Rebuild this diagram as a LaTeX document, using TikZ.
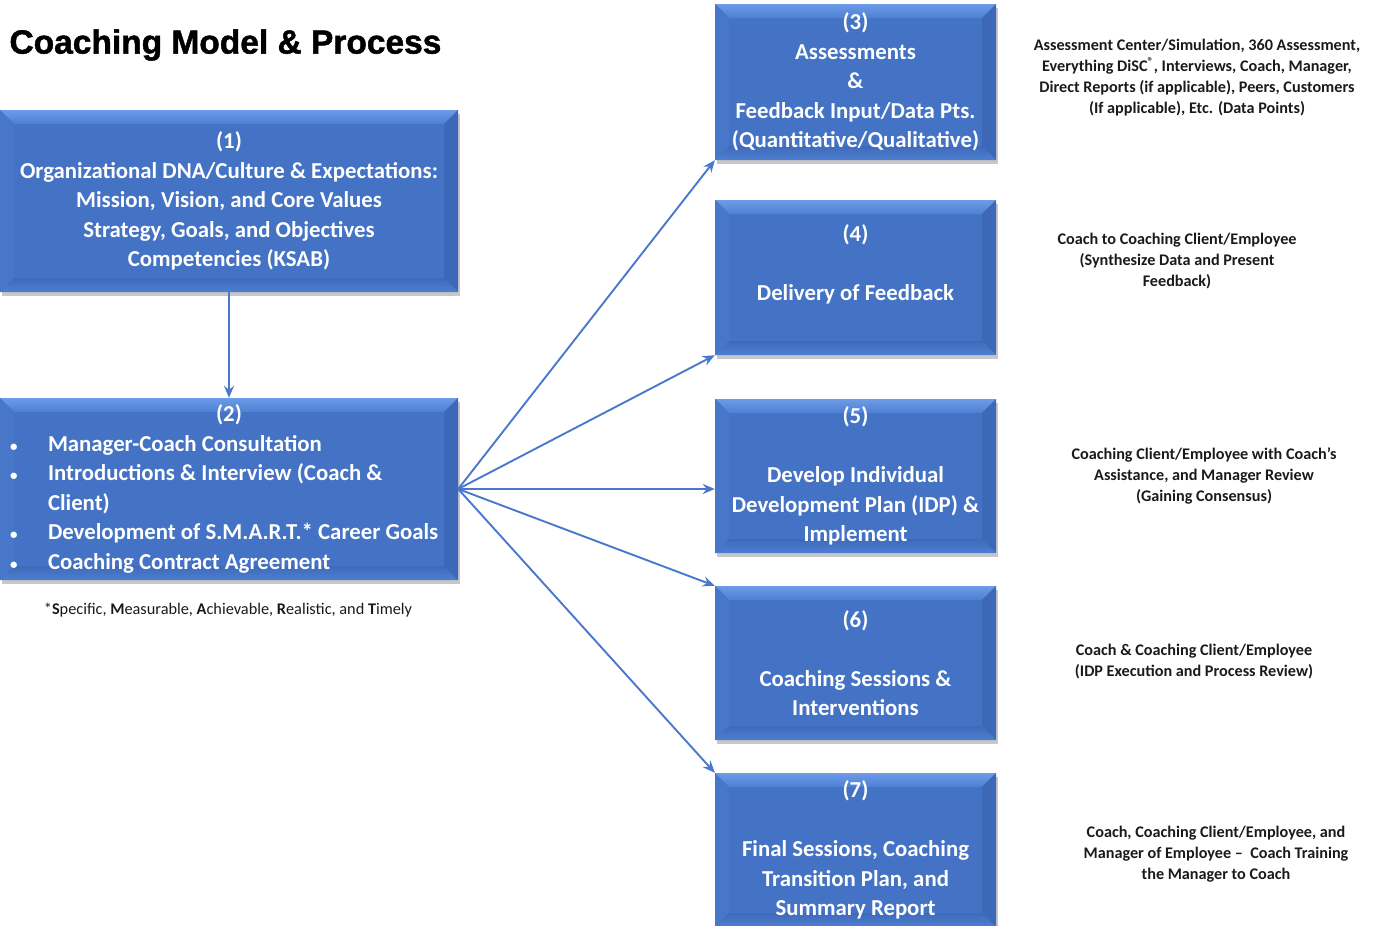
\documentclass[tikz,border=0pt]{standalone}
\usepackage{fontspec}
\setmainfont{Carlito}
\newfontfamily\titlefont[UprightFont=* Bold, FakeBold=1.4]{Liberation Sans}
\usetikzlibrary{positioning,arrows.meta,shadows}
\definecolor{boxblue}{HTML}{4472C4}
\definecolor{bevellight}{HTML}{6C9CE8}
\definecolor{bevelmid}{HTML}{4E7FD2}
\definecolor{bevelleft}{HTML}{4876C8}
\definecolor{bevelright}{HTML}{3D68B8}
\definecolor{bevelbottom}{HTML}{3F6AB9}
\definecolor{linkblue}{HTML}{4A78CC}
\definecolor{notegray}{HTML}{1A1A1A}
\newcommand{\bevw}{14pt}
% bullet line of box (2), text starts 48pt in
\newcommand{\bitem}[1]{\makebox[48pt][l]{\hspace{10pt}{\fontsize{15}{15}\selectfont\textbullet}}#1}

\begin{document}
\begin{tikzpicture}[
    x=1pt, y=-1pt,
    stage/.style={
      rectangle,
      fill=boxblue,
      text=white,
      inner sep=0pt,
      align=center,
      font=\bfseries\fontsize{22.8}{29.5}\selectfont,
      drop shadow={shadow xshift=1.5pt, shadow yshift=-3.5pt, fill=black, opacity=0.22},
      path picture={
        \coordinate (pnw) at (path picture bounding box.north west);
        \coordinate (pne) at (path picture bounding box.north east);
        \coordinate (psw) at (path picture bounding box.south west);
        \coordinate (pse) at (path picture bounding box.south east);
        \shade[top color=bevellight, bottom color=bevelmid] (pnw) -- (pne) -- ([shift={(-\bevw,-\bevw)}]pne) -- ([shift={(\bevw,-\bevw)}]pnw) -- cycle;
        \fill[bevelleft] (pnw) -- ([shift={(\bevw,-\bevw)}]pnw) -- ([shift={(\bevw,\bevw)}]psw) -- (psw) -- cycle;
        \fill[bevelright] (pne) -- ([shift={(-\bevw,-\bevw)}]pne) -- ([shift={(-\bevw,\bevw)}]pse) -- (pse) -- cycle;
        \shade[top color=bevelbottom, bottom color=bevelmid] (psw) -- ([shift={(\bevw,\bevw)}]psw) -- ([shift={(-\bevw,\bevw)}]pse) -- (pse) -- cycle;
      }
    },
    wide/.style={minimum width=458pt, minimum height=182pt},
    narrow/.style={minimum width=281pt, minimum height=154pt},
    note/.style={
      align=center,
      text=notegray,
      font=\bfseries\fontsize{16.2}{21}\selectfont
    },
    link/.style={
      draw=linkblue,
      line width=1.9pt,
      -{Stealth[length=12pt,width=10pt]}
    }
  ]
  \useasboundingbox (0,0) rectangle (1377,926);

  \node[anchor=west, font=\titlefont\fontsize{33.5}{38}\selectfont] (title) at (6,45) {Coaching Model \& Process};

  % left column
  \node[stage, wide] (culture) at (229,201) {(1)\\Organizational DNA/Culture \& Expectations:\\Mission, Vision, and Core Values\\Strategy, Goals, and Objectives\\Competencies (KSAB)};
  \node[stage, wide, align=flush left, text width=458pt] (contract) at (229,489) {%
    \hfill(2)\hfill\mbox{}\\
    \bitem{Manager-Coach Consultation}\\
    \bitem{Introductions \& Interview (Coach \&}\\
    \hspace*{48pt}Client)\\
    \bitem{Development of S.M.A.R.T.* Career Goals}\\
    \bitem{Coaching Contract Agreement}};
  \node[font=\fontsize{16.3}{18}\selectfont, text=notegray] (smart) at (228,610) {*\textbf{S}pecific, \textbf{M}easurable, \textbf{A}chievable, \textbf{R}ealistic, and \textbf{T}imely};

  % right column
  \node[stage, narrow, minimum height=156pt] (assess) at (855.5,82) {(3)\\Assessments\\\&\\Feedback Input/Data Pts.\\(Quantitative/Qualitative)};
  \node[stage, narrow, minimum height=155pt] (delivery) at (855.5,277.5) {(4)\\\mbox{}\\Delivery of Feedback\\\mbox{}};
  \node[stage, narrow] (idp) at (855.5,476) {(5)\\\mbox{}\\Develop Individual\\Development Plan (IDP) \&\\Implement};
  \node[stage, narrow] (sessions) at (855.5,663) {(6)\\\mbox{}\\Coaching Sessions \&\\Interventions};
  \node[stage, narrow] (final) at (855.5,850) {(7)\\\mbox{}\\Final Sessions, Coaching\\Transition Plan, and\\Summary Report};

  % who is involved
  \node[note] (assessnote) at (1197,77.5) {Assessment Center/Simulation, 360 Assessment,\\Everything DiSC\textsuperscript{®}, Interviews, Coach, Manager,\\Direct Reports (if applicable), Peers, Customers\\(If applicable), Etc. (Data Points)};
  \node[note] (deliverynote) at (1177,261) {Coach to Coaching Client/Employee\\(Synthesize Data and Present\\Feedback)};
  \node[note] (idpnote) at (1204,476) {Coaching Client/Employee with Coach’s\\Assistance, and Manager Review\\(Gaining Consensus)};
  \node[note] (sessionsnote) at (1194,662) {Coach \& Coaching Client/Employee\\(IDP Execution and Process Review)};
  \node[note] (finalnote) at (1216,854) {Coach, Coaching Client/Employee, and\\Manager of Employee –\ \ Coach Training\\the Manager to Coach};

  % arrows
  \draw[link] (culture.south) -- (contract.north);
  \draw[link] (contract.east) -- (assess.south west);
  \draw[link] (contract.east) -- (delivery.south west);
  \draw[link] (contract.east) -- (idp.west |- contract.east);
  \draw[link] (contract.east) -- (sessions.north west);
  \draw[link] (contract.east) -- (final.north west);
\end{tikzpicture}
\end{document}
